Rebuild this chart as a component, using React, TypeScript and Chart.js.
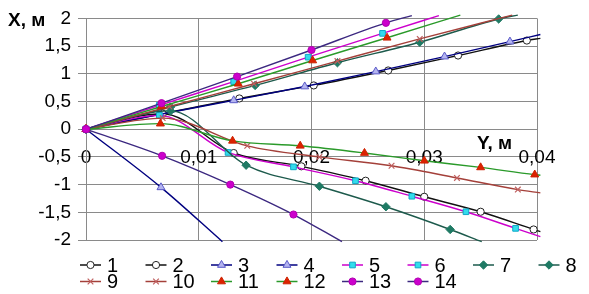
import React, { useEffect, useRef } from "react";
import { Chart, registerables } from "chart.js";
import { drawPoint } from "chart.js/helpers";

Chart.register(...registerables);

// ---- data ----
const seriesNames = ["1", "2", "3", "4", "5", "6", "7", "8", "9", "10", "11", "12", "13", "14"];

const s1X = [0, 0.0068, 0.0136, 0.0202, 0.0268, 0.033, 0.0391, 0.0403];
const s1Y = [0, 0.28, 0.555, 0.79, 1.06, 1.33, 1.6, 1.64];
const s2X = [0, 0.0068, 0.0131, 0.0191, 0.0248, 0.03, 0.035, 0.0397, 0.0403];
const s2Y = [0, 0.28, -0.43, -0.67, -0.93, -1.22, -1.49, -1.81, -1.85];
const s3X = [0, 0.0066, 0.0131, 0.0194, 0.0257, 0.0318, 0.0376, 0.0403];
const s3Y = [0, 0.27, 0.52, 0.77, 1.04, 1.31, 1.58, 1.71];
const s4X = [0, 0.00665, 0.0121];
const s4Y = [0, -1.05, -2.03];
const s5X = [0, 0.0065, 0.0131, 0.0197, 0.0263, 0.0313];
const s5Y = [0, 0.43, 0.86, 1.3, 1.73, 2.05];
const s6X = [0, 0.0065, 0.0126, 0.0184, 0.0239, 0.0289, 0.0337, 0.0381, 0.0403];
const s6Y = [0, 0.25, -0.42, -0.68, -0.93, -1.21, -1.49, -1.79, -1.94];
const s7X = [0, 0.0075, 0.015, 0.0223, 0.0296, 0.0366, 0.0383];
const s7Y = [0, 0.4, 0.79, 1.2, 1.57, 1.99, 2.06];
const s8X = [0, 0.0075, 0.0142, 0.0207, 0.0266, 0.0323, 0.0351];
const s8Y = [0, 0.33, -0.65, -1.03, -1.4, -1.81, -2.03];
const s9X = [0, 0.0074, 0.0149, 0.0223, 0.0296, 0.0378];
const s9Y = [0, 0.41, 0.82, 1.23, 1.63, 2.06];
const s10X = [0, 0.0068, 0.0143, 0.0207, 0.0271, 0.0329, 0.0383, 0.0403];
const s10Y = [0, 0.2, -0.3, -0.5, -0.66, -0.88, -1.09, -1.15];
const s11X = [0, 0.0067, 0.0135, 0.0201, 0.0267, 0.0332];
const s11Y = [0, 0.41, 0.82, 1.24, 1.65, 2.06];
const s12X = [0, 0.0066, 0.013, 0.019, 0.0247, 0.03, 0.035, 0.0398, 0.0403];
const s12Y = [0, 0.1, -0.21, -0.3, -0.43, -0.57, -0.69, -0.82, -0.83];
const s13X = [0, 0.0067, 0.0134, 0.02, 0.0266, 0.0289];
const s13Y = [0, 0.47, 0.95, 1.43, 1.92, 2.05];
const s14X = [0, 0.00675, 0.0128, 0.0184, 0.0227];
const s14Y = [0, -0.48, -1.0, -1.54, -2.03];

const seriesX = [s1X, s2X, s3X, s4X, s5X, s6X, s7X, s8X, s9X, s10X, s11X, s12X, s13X, s14X];
const seriesY = [s1Y, s2Y, s3Y, s4Y, s5Y, s6Y, s7Y, s8Y, s9Y, s10Y, s11Y, s12Y, s13Y, s14Y];

const xMin = 0;
const xMax = 0.04;
const xStep = 0.01;
const yMin = -2;
const yMax = 2;
const yStep = 0.5;

const xTitle = "Y, м";
const yTitle = "X, м";

// ---- styles ----
type St = { line: string; style: string; bg: string; border: string; r: number; bw: number };
const styleA: St[] = [
  { line: "#111111", style: "circle", bg: "#ffffff", border: "#222222", r: 3.6, bw: 1 },
  { line: "#000080", style: "triangle", bg: "#b4b4f0", border: "#5a5ac8", r: 4.6, bw: 1 },
  { line: "#cc00cc", style: "rect", bg: "#33dcec", border: "#10a8c8", r: 4, bw: 1 },
  { line: "#1d5a4c", style: "rectRot", bg: "#1f7a64", border: "#1f7a64", r: 4.2, bw: 1 },
  { line: "#a4403a", style: "crossRot", bg: "#c06060", border: "#c06060", r: 4, bw: 1.2 },
  { line: "#2a9a2a", style: "triangle", bg: "#dd2200", border: "#cc2200", r: 4.6, bw: 1 },
  { line: "#3c2880", style: "circle", bg: "#cc00cc", border: "#b000b0", r: 3.6, bw: 1 },
];
const styles: St[] = seriesNames.map((_, i) => styleA[Math.floor(i / 2)]);

const FONT = "'Liberation Sans', Arial, sans-serif";

const legendPlugin = {
  id: "gridLegend",
  afterDraw(chart: any) {
    const ctx = chart.ctx;
    ctx.save();
    chart.data.datasets.forEach((ds: any, i: number) => {
      const st = styles[i];
      const row = i < 8 ? 0 : 1;
      const col = i < 8 ? i : i - 8;
      const tx = 107 + col * 65.5;
      const y = row === 0 ? 265 : 281.5;
      ctx.strokeStyle = st.line;
      ctx.lineWidth = 1.5;
      ctx.beginPath();
      ctx.moveTo(tx - 27, y);
      ctx.lineTo(tx - 6, y);
      ctx.stroke();
      ctx.fillStyle = st.bg;
      ctx.strokeStyle = st.border;
      ctx.lineWidth = st.bw;
      drawPoint(ctx, { pointStyle: st.style as any, radius: st.r, rotation: 0, borderWidth: st.bw }, tx - 16.5, y);
      ctx.fillStyle = "#000000";
      ctx.font = "20px " + FONT;
      ctx.textAlign = "left";
      ctx.textBaseline = "middle";
      ctx.fillText(ds.label, tx, y + 1);
    });
    ctx.font = "bold 19px " + FONT;
    ctx.fillStyle = "#000000";
    ctx.textAlign = "left";
    ctx.textBaseline = "middle";
    ctx.fillText(yTitle, 8, 21);
    ctx.fillText(xTitle, 477, 144);
    ctx.restore();
  },
};

const fmt = (v: number) => {
  const n = Math.round(v * 1000) / 1000;
  return String(n).replace(".", ",");
};

export default function App() {
  const ref = useRef<HTMLCanvasElement | null>(null);
  useEffect(() => {
    document.body.style.margin = "0";
    if (!ref.current) return;
    const datasets = seriesNames.map((name, i) => {
      const st = styles[i];
      const xs = seriesX[i];
      const ys = seriesY[i];
      const last = xs.length - 1;
      return {
        label: name,
        data: xs.map((x, k) => ({ x, y: ys[k] })),
        showLine: true,
        borderColor: st.line,
        borderWidth: 1.4,
        cubicInterpolationMode: "monotone",
        pointStyle: st.style,
        pointBackgroundColor: st.bg,
        pointBorderColor: st.border,
        pointBorderWidth: st.bw,
        pointRadius: (c: any) => (c.dataIndex === last ? 0 : st.r),
        order: 13 - i,
        clip: 6,
      };
    });
    const chart = new Chart(ref.current, {
      type: "scatter",
      data: { datasets: datasets as any },
      options: {
        animation: false,
        responsive: false,
        devicePixelRatio: 1,
        layout: { padding: { top: 17, right: 52, bottom: 54, left: 0 } },
        plugins: { legend: { display: false }, tooltip: { enabled: false } },
        scales: {
          x: {
            type: "linear",
            min: xMin,
            max: xMax,
            position: { y: 0 } as any,
            grid: { color: "#8a8a8a", lineWidth: 1, drawTicks: false },
            border: { color: "#8a8a8a" },
            ticks: {
              stepSize: xStep,
              padding: 17,
              color: "#000000",
              font: { family: FONT, size: 19 },
              maxRotation: 0,
              autoSkip: false,
              callback: (v: any) => fmt(Number(v)),
            },
          },
          y: {
            type: "linear",
            min: yMin,
            max: yMax,
            position: "left",
            grid: { color: "#8a8a8a", lineWidth: 1, drawTicks: true, tickLength: 8 },
            border: { color: "#8a8a8a" },
            afterFit: (s: any) => {
              s.width = 86;
            },
            ticks: {
              stepSize: yStep,
              padding: 7,
              color: "#000000",
              font: { family: FONT, size: 19 },
              autoSkip: false,
              callback: (v: any) => fmt(Number(v)),
            },
          },
        },
      },
      plugins: [legendPlugin],
    });
    return () => chart.destroy();
  }, []);
  return (
    <div style={{ width: 589, height: 294, overflow: "hidden", background: "#ffffff" }}>
      <canvas ref={ref} width={589} height={294} style={{ display: "block" }} />
    </div>
  );
}
